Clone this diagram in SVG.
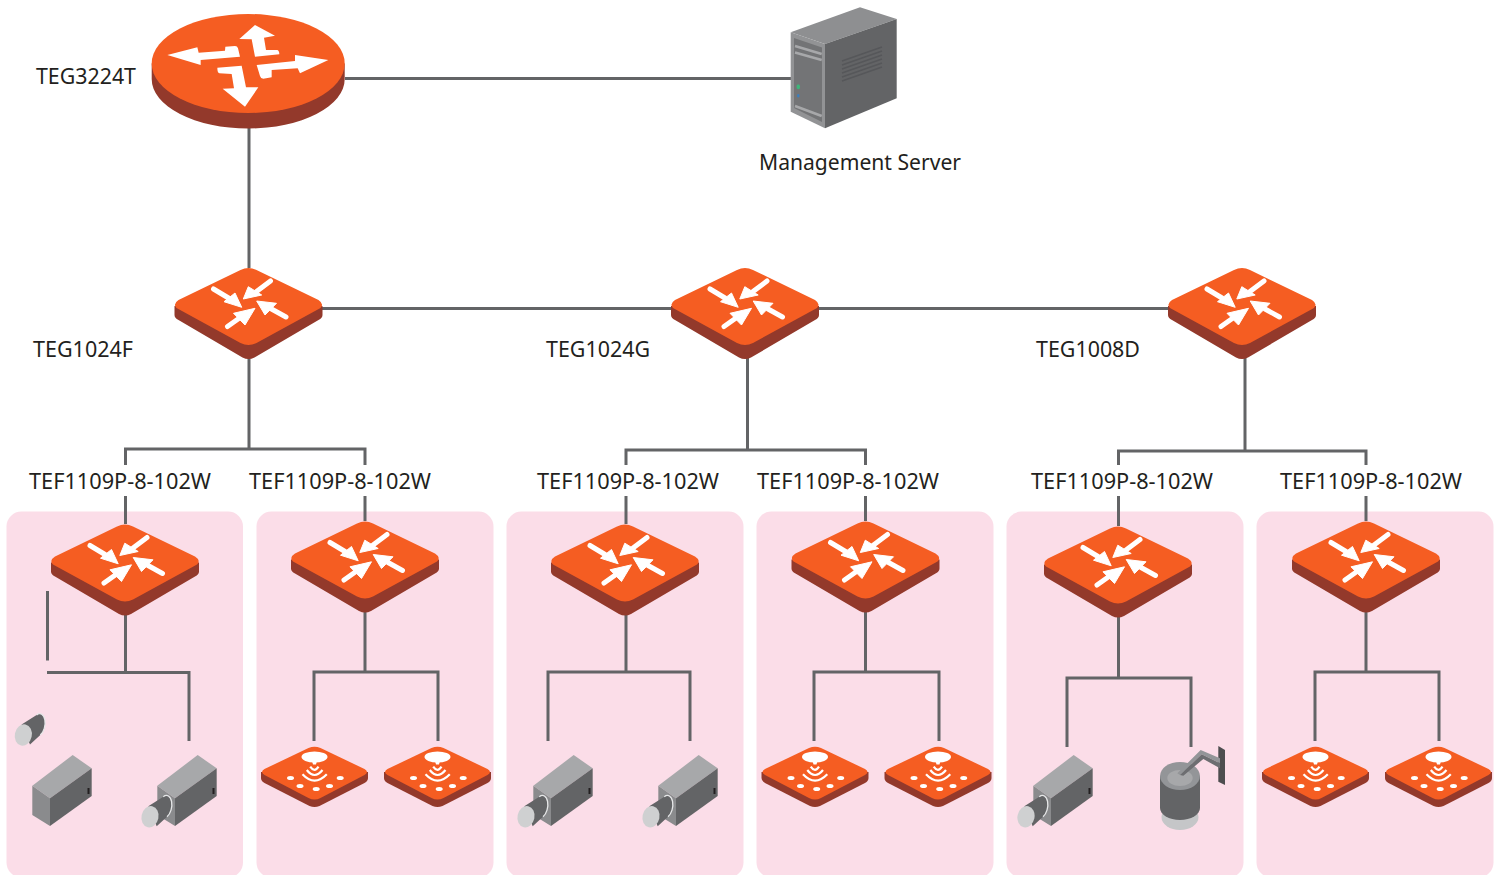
<svg xmlns="http://www.w3.org/2000/svg" xmlns:xlink="http://www.w3.org/1999/xlink" width="1498" height="875" viewBox="0 0 1498 875">
<style>
.panel{fill:#fbdde8}
.link{fill:none;stroke:#636466;stroke-width:3}
.label{font-family:"Noto Sans","Open Sans","Liberation Sans",sans-serif;font-size:21.5px;fill:#231f20}
.or{fill:#f55d22}
.dk{fill:#93392b}
.wt{fill:#fff}
.as{stroke:#fff;stroke-width:5;stroke-linecap:round;fill:none}
.ah{fill:#fff;stroke:#fff;stroke-width:1;stroke-linejoin:round}
.wa{fill:none;stroke:#fff;stroke-width:2.200;stroke-linecap:butt}
</style>
<defs>
<g id="sw">
<path class="dk" d="M-74,0 V9 Q-74,12 -70,14 L-6,51.500 Q0,54.500 6,51.500 L70,14 Q74,12 74,9 V0 Z"/>
<path class="or" d="M-70,-6 L-8,-36 Q0,-40 8,-36 L70,-6 Q76,-2 72,2 L8,37 Q0,41 -8,37 L-72,2 Q-76,-2 -70,-6 Z"/>
<path class="as" d="M-35,-17 L-20,-8 M22,-25 L8,-14.500 M37.500,11 L23,3 M-21,20.500 L-9,12"/>
<path class="ah" d="M-6.800,1.300 L-24.500,-4.300 L-13.500,-13 Z M-5.200,-7 L-0.200,-19.300 L13.200,-11 Z M8.200,-5 L28,-2.700 L16.500,9 Z M6.500,2.300 L-15,7.300 L-3.500,19 Z"/>
</g>
<g id="ap">
<path class="dk" d="M-53.500,0 V6 Q-53.500,9 -50,11 L-5,34 Q0,36 5,34 L50,11 Q53.500,9 53.500,6 V0 Z"/>
<path class="or" d="M-50,-3 L-6,-24 Q0,-26.500 6,-24 L50,-3 Q55,0 50,3 L6,26 Q0,29 -6,26 L-50,3 Q-55,0 -50,-3 Z"/>
<ellipse class="wt" cx="0" cy="-15" rx="13" ry="5.500"/>
<path class="wt" d="M-2.500,-11 H2.500 L1.500,-7.500 H-1.500 Z"/>
<path class="wa" d="M-12,2.300 Q0,15 12.300,2.300 M-7.700,-2 Q0,8 8,-2 M-4.300,-5.300 Q0,1 4,-5.300"/>
<g class="wt">
<ellipse cx="-24" cy="6" rx="3.500" ry="2"/><ellipse cx="-14.500" cy="14" rx="3.500" ry="2"/><ellipse cx="1.700" cy="17" rx="3.500" ry="2"/><ellipse cx="15" cy="14" rx="3.500" ry="2"/><ellipse cx="25.700" cy="6" rx="3.500" ry="2"/>
</g>
</g>
<g id="lens">
<path fill="#636466" d="M-1.700,-10.500 L13.300,-20 A6 10.500 10 0 1 17,0 L6.700,9.500 Z"/>
<path fill="none" stroke="#e6e7e8" stroke-width="1.300" d="M13.300,-20 A6 10.500 10 0 1 17,0"/>
<ellipse cx="0" cy="0" rx="8.500" ry="10.800" transform="rotate(12)" fill="#cfd0d1"/>
</g>
<g id="body">
<path fill="#a7a8aa" d="M32.300,785.700 L72.700,755 L91.700,768.300 L50,798.300 Z"/>
<path fill="#8a8b8d" d="M32.300,785.700 L50,798.300 V826 L32.300,815 Z"/>
<path fill="#636466" d="M50,798.300 L91.700,768.300 V796 L50,826 Z"/>
<rect x="87.500" y="788" width="2" height="6" fill="#231f20"/>
</g>
<g id="cam"><use xlink:href="#body" href="#body"/><use xlink:href="#lens" href="#lens" x="25" y="816.700"/></g>
</defs>
<g id="panels">
<rect class="panel" x="6.500" y="511.500" width="236.500" height="366" rx="15"/>
<rect class="panel" x="256.500" y="511.500" width="237" height="366" rx="15"/>
<rect class="panel" x="506.500" y="511.500" width="237" height="366" rx="15"/>
<rect class="panel" x="756.500" y="511.500" width="237" height="366" rx="15"/>
<rect class="panel" x="1006.500" y="511.500" width="237" height="366" rx="15"/>
<rect class="panel" x="1256.500" y="511.500" width="237" height="366" rx="15"/>
</g>
<g id="connectors">
<path class="link" d="M345,78.500 H791 M249,125 V268 M322,308.500 H671 M818,308.500 H1168"/>
<path class="link" d="M249,358 V449 M125.500,465 V449 H365 V465 M125.500,496 V524 M365,496 V521"/>
<path class="link" d="M747.500,358 V450 M626,465 V450 H865.500 V465 M626,496 V524 M865.500,496 V521"/>
<path class="link" d="M1245,358 V451 M1118.500,465 V451 H1366 V465 M1118.500,496 V526 M1366,496 V521"/>
<path class="link" d="M47.500,591 V660.500 M125.500,612 V672.500 M47,672.500 H189 V741"/>
<path class="link" d="M365,610 V672 M314,741 V672 H438 V741"/>
<path class="link" d="M626,612 V672 M548,741 V672 H690 V741"/>
<path class="link" d="M865.500,610 V672 M814,741 V672 H939 V741"/>
<path class="link" d="M1118.500,615 V678 M1067,747 V678 H1191 V747"/>
<path class="link" d="M1366,610 V672 M1315,741 V672 H1439 V741"/>
</g>
<g id="TEG3224T">
<path class="dk" d="M151.700,63.500 V79 A96.500 49.500 0 0 0 344.700,79 V63.500 Z"/>
<ellipse class="or" cx="248.200" cy="63.500" rx="96.500" ry="49.500"/>
<g class="wt" transform="translate(140 0) scale(.33333)">
<path d="M82,165 L172,142 L176,158 L255,152 L256,140 L285,138 Q292,138 294,145 L300,170 L182,180 L182,195 Z"/>
<path d="M345,75 L405,107 L372,113 L378,150 L412,150 Q418,152 418,163 L345,170 L335,118 L298,117 Z"/>
<path d="M565,180 L480,220 L473,205 L395,210 L395,232 L370,236 Q362,236 360,228 L350,195 L465,183 L465,165 Z"/>
<path d="M315,320 L248,266 L282,265 L275,222 L238,220 Q232,218 232,203 L305,197 L318,262 L355,262 Z"/>
</g>
</g>
<g id="server">
<path fill="#8e8f91" d="M790.700,32.300 L860,7.300 L896.700,19 L825,44 Z"/>
<path fill="#929395" d="M790.700,32.300 L825,44 V128.300 L790.700,111.700 Z"/>
<path fill="#737476" d="M794,38 L822,47.500 V122 L794,108 Z"/>
<path fill="#636466" d="M825,44 L896.700,19 V98.300 L825,128.300 Z"/>
<path fill="none" stroke="#a7a8aa" stroke-width="2.500" d="M795,46 L821.700,54 M795,52.500 L821.700,60 M795,106 L821.700,116"/>
<ellipse cx="798.300" cy="86.700" rx="1.800" ry="2.500" fill="#3fb57a"/>
<ellipse cx="798.300" cy="95.700" rx="1.300" ry="1.800" fill="#3a7fc0"/>
<path fill="none" stroke="#56575a" stroke-width="1.500" d="M842,61 L882,47 M842,65 L882,51 M842,69 L882,55 M842,73 L882,59 M842,77 L882,63 M842,81 L882,67"/>
</g>
<g id="TEG1024F"><use xlink:href="#sw" href="#sw" x="248.500" y="306"/></g>
<g id="TEG1024G"><use xlink:href="#sw" href="#sw" x="745" y="306"/></g>
<g id="TEG1008D"><use xlink:href="#sw" href="#sw" x="1242" y="306"/></g>
<g id="tef1"><use xlink:href="#sw" href="#sw" x="125" y="562.500"/></g>
<g id="tef2"><use xlink:href="#sw" href="#sw" x="365" y="559.500"/></g>
<g id="tef3"><use xlink:href="#sw" href="#sw" x="625" y="562.500"/></g>
<g id="tef4"><use xlink:href="#sw" href="#sw" x="865.500" y="559.500"/></g>
<g id="tef5"><use xlink:href="#sw" href="#sw" x="1118" y="564.500"/></g>
<g id="tef6"><use xlink:href="#sw" href="#sw" x="1366" y="559.500"/></g>
<g id="ap1"><use xlink:href="#ap" href="#ap" x="314.500" y="772"/></g>
<g id="ap2"><use xlink:href="#ap" href="#ap" x="437.500" y="772"/></g>
<g id="ap3"><use xlink:href="#ap" href="#ap" x="815" y="772"/></g>
<g id="ap4"><use xlink:href="#ap" href="#ap" x="938" y="772"/></g>
<g id="ap5"><use xlink:href="#ap" href="#ap" x="1315.500" y="772"/></g>
<g id="ap6"><use xlink:href="#ap" href="#ap" x="1438.500" y="772"/></g>
<g id="cam1"><use xlink:href="#body" href="#body"/><use xlink:href="#lens" href="#lens" x="23.300" y="735"/></g>
<g id="cam2"><use xlink:href="#cam" href="#cam" x="125"/></g>
<g id="cam3"><use xlink:href="#cam" href="#cam" x="501"/></g>
<g id="cam4"><use xlink:href="#cam" href="#cam" x="626"/></g>
<g id="cam5"><use xlink:href="#cam" href="#cam" x="1001"/></g>
<g id="dome">
<path fill="#4d4d4f" d="M1218.300,746 L1225,750 V785 L1218.300,781.700 Z"/>
<ellipse cx="1180" cy="817" rx="18.500" ry="13" fill="#c5c6c8"/>
<path fill="#636466" d="M1160,776 V808 A20 12 0 0 0 1200,808 V776 Z"/>
<ellipse cx="1180" cy="776" rx="20" ry="14" fill="#939598"/>
<ellipse cx="1180" cy="778" rx="12.700" ry="8" fill="#a7a8aa"/>
<g transform="translate(1140 735) scale(.33333)">
<path fill="#939598" d="M112,115 L182,45 L240,70 V85 L185,58 L120,120 Z"/>
<path fill="#6d6e71" d="M120,120 L185,58 L240,85 V100 L190,72 L130,122 Z"/>
</g>
</g>
<g id="labels">
<text class="label" x="36" y="84" textLength="100" lengthAdjust="spacingAndGlyphs">TEG3224T</text>
<text class="label" x="759" y="170" textLength="202" lengthAdjust="spacingAndGlyphs">Management Server</text>
<text class="label" x="33" y="357" textLength="100" lengthAdjust="spacingAndGlyphs">TEG1024F</text>
<text class="label" x="546" y="357" textLength="104" lengthAdjust="spacingAndGlyphs">TEG1024G</text>
<text class="label" x="1036" y="357" textLength="104" lengthAdjust="spacingAndGlyphs">TEG1008D</text>
<text class="label" x="29" y="489" textLength="182" lengthAdjust="spacingAndGlyphs">TEF1109P-8-102W</text>
<text class="label" x="249" y="489" textLength="182" lengthAdjust="spacingAndGlyphs">TEF1109P-8-102W</text>
<text class="label" x="537" y="489" textLength="182" lengthAdjust="spacingAndGlyphs">TEF1109P-8-102W</text>
<text class="label" x="757" y="489" textLength="182" lengthAdjust="spacingAndGlyphs">TEF1109P-8-102W</text>
<text class="label" x="1031" y="489" textLength="182" lengthAdjust="spacingAndGlyphs">TEF1109P-8-102W</text>
<text class="label" x="1280" y="489" textLength="182" lengthAdjust="spacingAndGlyphs">TEF1109P-8-102W</text>
</g>
</svg>
